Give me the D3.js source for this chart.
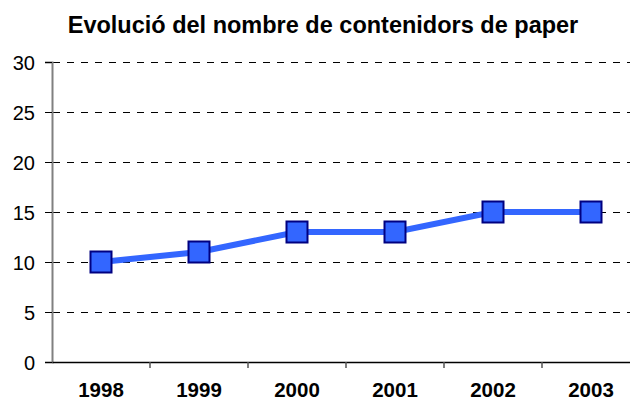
<!DOCTYPE html>
<html>
<head>
<meta charset="utf-8">
<script src="https://cdn.jsdelivr.net/npm/d3@7"></script>
<style>
  body { margin: 0; background: #fff; }
  svg text { font-family: "Liberation Sans", Arial, sans-serif; }
</style>
</head>
<body>
<svg width="630" height="403"></svg>
<script>
var years = ["1998", "1999", "2000", "2001", "2002", "2003"];
var containers = [10, 11, 13, 13, 15, 15];
var yTicks = [0, 5, 10, 15, 20, 25, 30];

var data = years.map(function(y, i) { return { year: y, value: containers[i] }; });

var svg = d3.select("svg"),
    margin = {top: 62, right: -10, bottom: 41, left: 52},
    width = +svg.attr("width") - margin.left - margin.right,
    height = +svg.attr("height") - margin.top - margin.bottom,
    g = svg.append("g").attr("transform", "translate(" + margin.left + "," + margin.top + ")");

var x = d3.scaleBand().domain(years).range([0, width]);
var y = d3.scaleLinear().domain([0, 30]).range([height, 0]);

// title
svg.append("text")
    .attr("x", 323)
    .attr("y", 33)
    .attr("text-anchor", "middle")
    .style("font-size", "23.5px")
    .style("font-weight", "bold")
    .text("Evolució del nombre de contenidors de paper");

// gridlines
g.append("g")
    .selectAll("line")
    .data(yTicks.filter(function(d) { return d > 0; }))
    .enter().append("line")
    .attr("x1", 1)
    .attr("x2", width)
    .attr("y1", function(d) { return y(d) + 0.5; })
    .attr("y2", function(d) { return y(d) + 0.5; })
    .attr("stroke", "#000")
    .attr("stroke-dasharray", "7,7");

// y axis
var yAxis = g.append("g")
    .call(d3.axisLeft(y).tickValues(yTicks).tickSize(7).tickPadding(10));
yAxis.select(".domain").attr("stroke", "#808080").attr("stroke-width", 2);
yAxis.selectAll(".tick line").attr("stroke", "#000");
yAxis.selectAll("text").style("font-size", "20px").attr("fill", "#000").attr("dy", "0.36em");

// x axis
var xAxis = g.append("g")
    .attr("transform", "translate(0," + height + ")")
    .call(d3.axisBottom(x).tickSize(0).tickPadding(20));
xAxis.select(".domain").attr("stroke", "#000").attr("stroke-width", 1.5);
xAxis.selectAll("text").style("font-size", "20.5px").style("font-weight", "bold").attr("fill", "#000");

// band boundary ticks
g.append("g")
    .selectAll("line")
    .data(years.slice(1))
    .enter().append("line")
    .attr("x1", function(d) { return x(d); })
    .attr("x2", function(d) { return x(d); })
    .attr("y1", height)
    .attr("y2", height + 6)
    .attr("stroke", "#555")
    .attr("stroke-width", 1.5);

var line = d3.line()
    .x(function(d) { return x(d.year) + x.bandwidth() / 2; })
    .y(function(d) { return y(d.value); });

g.append("path")
    .datum(data)
    .attr("fill", "none")
    .attr("stroke", "#3366FF")
    .attr("stroke-width", 6)
    .attr("d", line);

g.selectAll(".marker")
    .data(data)
    .enter().append("rect")
    .attr("class", "marker")
    .attr("x", function(d) { return x(d.year) + x.bandwidth() / 2 - 10.5; })
    .attr("y", function(d) { return y(d.value) - 10.5; })
    .attr("width", 21)
    .attr("height", 21)
    .attr("fill", "#3366FF")
    .attr("stroke", "#000080")
    .attr("stroke-width", 2);
</script>
</body>
</html>
